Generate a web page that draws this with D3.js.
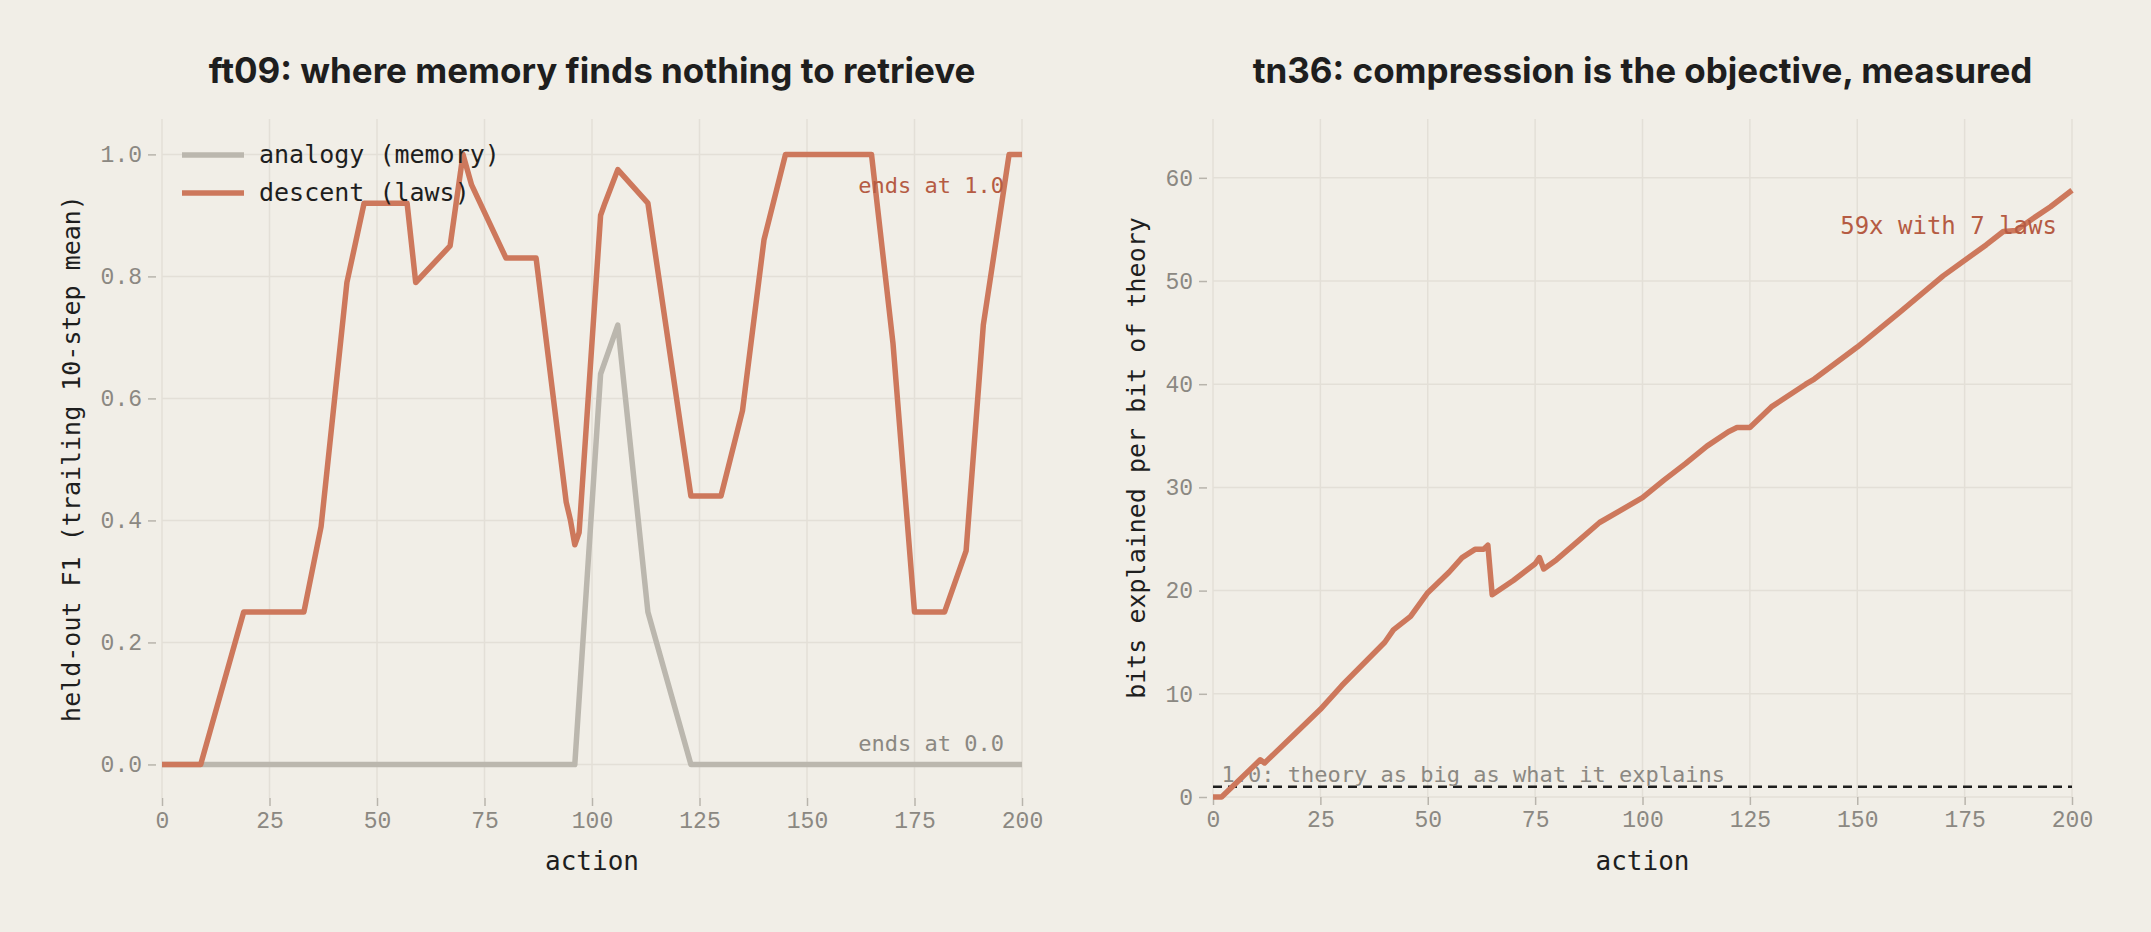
<!DOCTYPE html>
<html>
<head>
<meta charset="utf-8">
<script src="https://cdn.jsdelivr.net/npm/d3@7"></script>
<style>
  body { margin: 0; background: #f1eee7; }
  text { font-family: "DejaVu Sans Mono", monospace; }
  .title { font-family: Inter, sans-serif; font-weight: 700; font-size: 35px; fill: #1e1e1e; }
</style>
</head>
<body>
<div id="chart"></div>
<script>
// Dados
const descentX = [0, 9, 19, 33, 37, 43, 47, 57, 59, 67, 70, 72, 80, 87, 94, 95, 96, 97, 102, 103, 106, 113, 123, 130, 135, 140, 145, 165, 170, 175, 182, 187, 191, 197, 200];
const descentY = [0, 0, 0.25, 0.25, 0.39, 0.79, 0.92, 0.92, 0.79, 0.85, 1.0, 0.95, 0.83, 0.83, 0.43, 0.40, 0.36, 0.38, 0.90, 0.92, 0.975, 0.92, 0.44, 0.44, 0.58, 0.86, 1.0, 1.0, 0.69, 0.25, 0.25, 0.35, 0.72, 1.0, 1.0];
const analogyX = [0, 96, 102, 106, 113, 123, 200];
const analogyY = [0, 0, 0.64, 0.72, 0.25, 0, 0];

const ratioX = [0, 2, 11, 12, 20, 25, 30, 40, 42, 46, 50, 55, 58, 61, 63, 64, 65, 70, 75, 76, 77, 80, 85, 90, 100, 105, 110, 115, 120, 122, 125, 130, 138, 140, 150, 160, 170, 180, 184, 187, 190, 195, 200];
const ratioY = [0, 0, 3.6, 3.3, 6.5, 8.5, 10.8, 15, 16.2, 17.5, 19.8, 21.8, 23.2, 24, 24, 24.4, 19.6, 21, 22.6, 23.2, 22.1, 23, 24.8, 26.6, 29, 30.7, 32.3, 34, 35.4, 35.8, 35.8, 37.8, 40, 40.5, 43.6, 47, 50.5, 53.5, 54.8, 54.9, 55.8, 57.2, 58.8];

const xTicks = [0, 25, 50, 75, 100, 125, 150, 175, 200];
const leftYTicks = [0, 0.2, 0.4, 0.6, 0.8, 1.0];
const rightYTicks = [0, 10, 20, 30, 40, 50, 60];

const width = 2151, height = 932;
const orange = "#cd785c", grey = "#bbb7ae", grid = "#e3dfd7", tickCol = "#8b8882", annot = "#b55b43";

const svg = d3.select("#chart").append("svg")
    .attr("width", width).attr("height", height)
    .style("background", "#f1eee7");

function panel(opt) {
    const x = d3.scaleLinear().domain([0, 200]).range([opt.left, opt.right]);
    const y = d3.scaleLinear().domain(opt.yDomain).range([opt.bottom, opt.top]);
    const g = svg.append("g");

    // grade
    g.selectAll(".gx").data(xTicks).enter().append("line")
        .attr("x1", d => x(d)).attr("x2", d => x(d))
        .attr("y1", opt.top).attr("y2", opt.bottom)
        .attr("stroke", grid).attr("stroke-width", 1.5);
    g.selectAll(".gy").data(opt.yTicks).enter().append("line")
        .attr("x1", opt.left).attr("x2", opt.right)
        .attr("y1", d => y(d)).attr("y2", d => y(d))
        .attr("stroke", grid).attr("stroke-width", 1.5);

    // eixos
    const ax = g.append("g").attr("transform", `translate(0,${opt.bottom})`)
        .call(d3.axisBottom(x).tickValues(xTicks).tickSize(8).tickPadding(6));
    const ay = g.append("g").attr("transform", `translate(${opt.left - 6},0)`)
        .call(d3.axisLeft(y).tickValues(opt.yTicks).tickFormat(opt.fmt).tickSize(8).tickPadding(6));
    [ax, ay].forEach(a => {
        a.select(".domain").remove();
        a.selectAll("line").attr("stroke", "#b8b4ac").attr("stroke-width", 1.5);
        a.selectAll("text").attr("fill", tickCol).style("font-size", "23px")
            .style("font-family", "'Liberation Mono', monospace");
    });

    g.append("text").attr("class", "title")
        .attr("x", (opt.left + opt.right) / 2).attr("y", 83)
        .attr("text-anchor", "middle").text(opt.title);
    g.append("text").attr("x", (opt.left + opt.right) / 2).attr("y", 870)
        .attr("text-anchor", "middle").style("font-size", "26px").attr("fill", "#1e1e1e").text("action");
    g.append("text")
        .attr("transform", `translate(${opt.ylabX},${(opt.top + opt.bottom) / 2}) rotate(-90)`)
        .attr("text-anchor", "middle").style("font-size", "25px").attr("fill", "#1e1e1e").text(opt.ylabel);

    return { g, x, y };
}

// painel esquerdo
const L = panel({
    left: 162, right: 1022, top: 119, bottom: 798, yDomain: [-0.055, 1.058],
    yTicks: leftYTicks, fmt: d3.format(".1f"),
    title: "ft09: where memory finds nothing to retrieve",
    ylabel: "held-out F1 (trailing 10-step mean)", ylabX: 80
});
const lineL = (xs, ys) => d3.line().x((d, i) => L.x(xs[i])).y((d, i) => L.y(ys[i]))(xs);
L.g.append("path").attr("d", lineL(analogyX, analogyY))
    .attr("fill", "none").attr("stroke", grey).attr("stroke-width", 5.5).attr("stroke-linejoin", "round");
L.g.append("path").attr("d", lineL(descentX, descentY))
    .attr("fill", "none").attr("stroke", orange).attr("stroke-width", 5.5).attr("stroke-linejoin", "round");
L.g.append("text").attr("x", 1004).attr("y", 193).attr("text-anchor", "end")
    .attr("fill", annot).style("font-size", "22px").text("ends at 1.0");
L.g.append("text").attr("x", 1004).attr("y", 751).attr("text-anchor", "end")
    .attr("fill", tickCol).style("font-size", "22px").text("ends at 0.0");
const legend = [["analogy (memory)", grey], ["descent (laws)", orange]];
legend.forEach((d, i) => {
    const yy = 155 + i * 38;
    L.g.append("line").attr("x1", 182).attr("x2", 244).attr("y1", yy).attr("y2", yy)
        .attr("stroke", d[1]).attr("stroke-width", 5.5);
    L.g.append("text").attr("x", 259).attr("y", yy + 8).style("font-size", "25px")
        .attr("fill", "#1e1e1e").text(d[0]);
});

// painel direito
const R = panel({
    left: 1213, right: 2072, top: 119, bottom: 797, yDomain: [0, 65.7],
    yTicks: rightYTicks, fmt: d3.format("d"),
    title: "tn36: compression is the objective, measured",
    ylabel: "bits explained per bit of theory", ylabX: 1145
});
R.g.append("line").attr("x1", R.x(0)).attr("x2", R.x(200)).attr("y1", R.y(1)).attr("y2", R.y(1))
    .attr("stroke", "#1e1e1e").attr("stroke-width", 2.5).attr("stroke-dasharray", "9,6");
R.g.append("text").attr("x", R.x(2)).attr("y", R.y(1) - 5)
    .attr("fill", tickCol).style("font-size", "22px").text("1.0: theory as big as what it explains");
R.g.append("path")
    .attr("d", d3.line().x((d, i) => R.x(ratioX[i])).y((d, i) => R.y(ratioY[i]))(ratioX))
    .attr("fill", "none").attr("stroke", orange).attr("stroke-width", 5.5).attr("stroke-linejoin", "round");
R.g.append("text").attr("x", R.x(196.5)).attr("y", R.y(54.6)).attr("text-anchor", "end")
    .attr("fill", annot).style("font-size", "24px").text("59x with 7 laws");
</script>
</body>
</html>
